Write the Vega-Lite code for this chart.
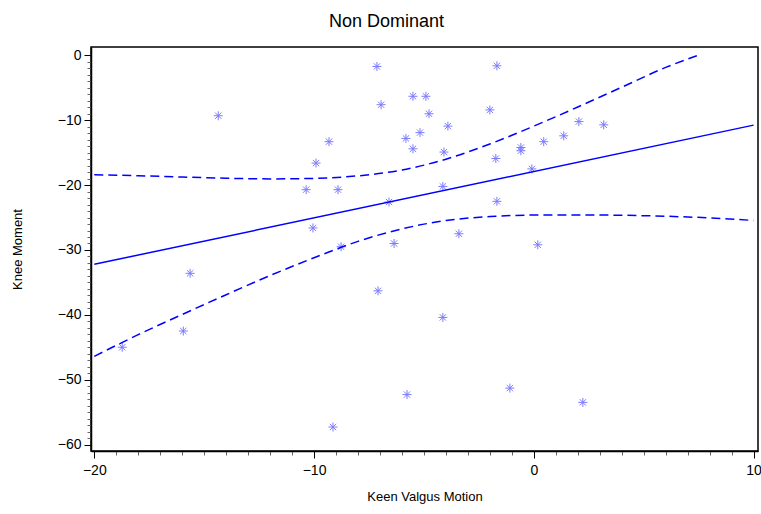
{
  "$schema": "https://vega.github.io/schema/vega-lite/v6.json",
  "autosize": {"type": "none"},
  "padding": {"left": 91, "top": 47, "right": 3, "bottom": 63},
  "width": 667,
  "height": 404,
  "background": "white",
  "title": {"text": "Non Dominant", "anchor": "middle", "dx": -38, "offset": 16, "fontSize": 18, "font": "Liberation Sans", "fontWeight": "normal", "color": "black"},
  "config": {
    "view": {"stroke": "black", "strokeWidth": 1.5},
    "axis": {"grid": false, "domainColor": "black", "domainWidth": 1.5, "tickColor": "black", "labelColor": "black", "titleColor": "black", "labelFont": "Liberation Sans", "titleFont": "Liberation Sans", "labelFontSize": 14, "titleFontSize": 13, "titleFontWeight": "normal"}
  },
  "layer": [
    {
      "data": {"values": [
        {"x": -18.73, "y": -45.0}, {"x": -15.95, "y": -42.5}, {"x": -15.64, "y": -33.6}, {"x": -14.36, "y": -9.3},
        {"x": -10.36, "y": -20.7}, {"x": -10.05, "y": -26.6}, {"x": -9.91, "y": -16.6}, {"x": -9.32, "y": -13.3},
        {"x": -8.91, "y": -20.7}, {"x": -8.77, "y": -29.5}, {"x": -9.14, "y": -57.3}, {"x": -7.14, "y": -1.7},
        {"x": -6.95, "y": -7.6}, {"x": -6.59, "y": -22.6}, {"x": -6.36, "y": -29.0}, {"x": -7.09, "y": -36.3},
        {"x": -5.77, "y": -52.3}, {"x": -5.82, "y": -12.8}, {"x": -5.5, "y": -14.4}, {"x": -5.5, "y": -6.3},
        {"x": -5.18, "y": -11.9}, {"x": -4.91, "y": -6.3}, {"x": -4.77, "y": -9.0}, {"x": -3.91, "y": -10.9},
        {"x": -4.09, "y": -14.9}, {"x": -4.14, "y": -20.2}, {"x": -3.41, "y": -27.5}, {"x": -4.14, "y": -40.4},
        {"x": -2.0, "y": -8.4}, {"x": -1.73, "y": -15.9}, {"x": -1.68, "y": -1.6}, {"x": -1.68, "y": -22.5},
        {"x": -1.09, "y": -51.3}, {"x": -0.59, "y": -14.2}, {"x": -0.59, "y": -14.7}, {"x": -0.09, "y": -17.5},
        {"x": 0.18, "y": -29.2}, {"x": 0.45, "y": -13.3}, {"x": 1.36, "y": -12.4}, {"x": 2.05, "y": -10.2},
        {"x": 2.23, "y": -53.5}, {"x": 3.18, "y": -10.7}
      ]},
      "mark": {"type": "point", "shape": "M-1,0L1,0M0,-1L0,1M-0.7,-0.7L0.7,0.7M-0.7,0.7L0.7,-0.7", "filled": false, "stroke": "#7b7bff", "strokeWidth": 1, "size": 81, "opacity": 1},
      "encoding": {
        "x": {"field": "x", "type": "quantitative", "scale": {"domain": [-20.15, 10.2], "nice": false, "zero": false},
          "axis": {"title": "Keen Valgus Motion", "format": "d", "tickCount": 200, "values": [-20,-19,-18,-17,-16,-15,-14,-13,-12,-11,-10,-9,-8,-7,-6,-5,-4,-3,-2,-1,0,1,2,3,4,5,6,7,8,9,10],
            "labelExpr": "datum.value % 10 === 0 ? datum.label : ''", "tickSize": {"condition": {"test": "datum.value % 10 === 0", "value": 7}, "value": 4},
            "tickColor": {"condition": {"test": "datum.value % 10 === 0", "value": "black"}, "value": "#666666"},
            "labelPadding": 5, "titlePadding": 13, "labelFlush": false, "labelOverlap": false}},
        "y": {"field": "y", "type": "quantitative", "scale": {"domain": [-61, 1.3], "nice": false, "zero": false},
          "axis": {"title": "Knee Moment", "format": "d", "tickCount": 200, "values": [-60,-59,-58,-57,-56,-55,-54,-53,-52,-51,-50,-49,-48,-47,-46,-45,-44,-43,-42,-41,-40,-39,-38,-37,-36,-35,-34,-33,-32,-31,-30,-29,-28,-27,-26,-25,-24,-23,-22,-21,-20,-19,-18,-17,-16,-15,-14,-13,-12,-11,-10,-9,-8,-7,-6,-5,-4,-3,-2,-1,0],
            "labelExpr": "datum.value % 10 === 0 ? datum.label : ''", "tickSize": {"condition": {"test": "datum.value % 10 === 0", "value": 7}, "value": 4},
            "tickColor": {"condition": {"test": "datum.value % 10 === 0", "value": "black"}, "value": "#666666"},
            "labelPadding": 3, "titlePadding": 33, "labelFlush": false, "labelOverlap": false}}
      }
    },
    {
      "data": {"values": [{"x": -20, "y": -32.21}, {"x": 10, "y": -10.75}]},
      "mark": {"type": "line", "color": "#0000ff", "strokeWidth": 1.5, "clip": true},
      "encoding": {"x": {"field": "x", "type": "quantitative"}, "y": {"field": "y", "type": "quantitative"}}
    },
    {
      "data": {"values": [
        {"x": -20, "y": -18.4}, {"x": -18, "y": -18.55}, {"x": -16, "y": -18.75}, {"x": -14, "y": -18.94},
        {"x": -12, "y": -19.04}, {"x": -10, "y": -18.96}, {"x": -8, "y": -18.57}, {"x": -6, "y": -17.67},
        {"x": -4, "y": -16.0}, {"x": -2, "y": -13.65}, {"x": 0, "y": -10.9}, {"x": 2, "y": -7.95},
        {"x": 4, "y": -4.9}, {"x": 6, "y": -1.85}, {"x": 7.55, "y": 0.1}
      ]},
      "mark": {"type": "line", "color": "#0000ff", "strokeWidth": 1.5, "strokeDash": [9, 5], "interpolate": "monotone", "clip": true},
      "encoding": {"x": {"field": "x", "type": "quantitative"}, "y": {"field": "y", "type": "quantitative"}}
    },
    {
      "data": {"values": [
        {"x": -20, "y": -46.4}, {"x": -18, "y": -43.06}, {"x": -16, "y": -39.95}, {"x": -14, "y": -36.9},
        {"x": -12, "y": -33.94}, {"x": -10, "y": -31.2}, {"x": -8, "y": -28.67}, {"x": -6, "y": -26.75},
        {"x": -4, "y": -25.46}, {"x": -2, "y": -24.85}, {"x": 0, "y": -24.62}, {"x": 2, "y": -24.6},
        {"x": 4, "y": -24.65}, {"x": 6, "y": -24.8}, {"x": 8, "y": -25.05}, {"x": 10, "y": -25.45}
      ]},
      "mark": {"type": "line", "color": "#0000ff", "strokeWidth": 1.5, "strokeDash": [9, 5], "interpolate": "monotone", "clip": true},
      "encoding": {"x": {"field": "x", "type": "quantitative"}, "y": {"field": "y", "type": "quantitative"}}
    }
  ]
}
